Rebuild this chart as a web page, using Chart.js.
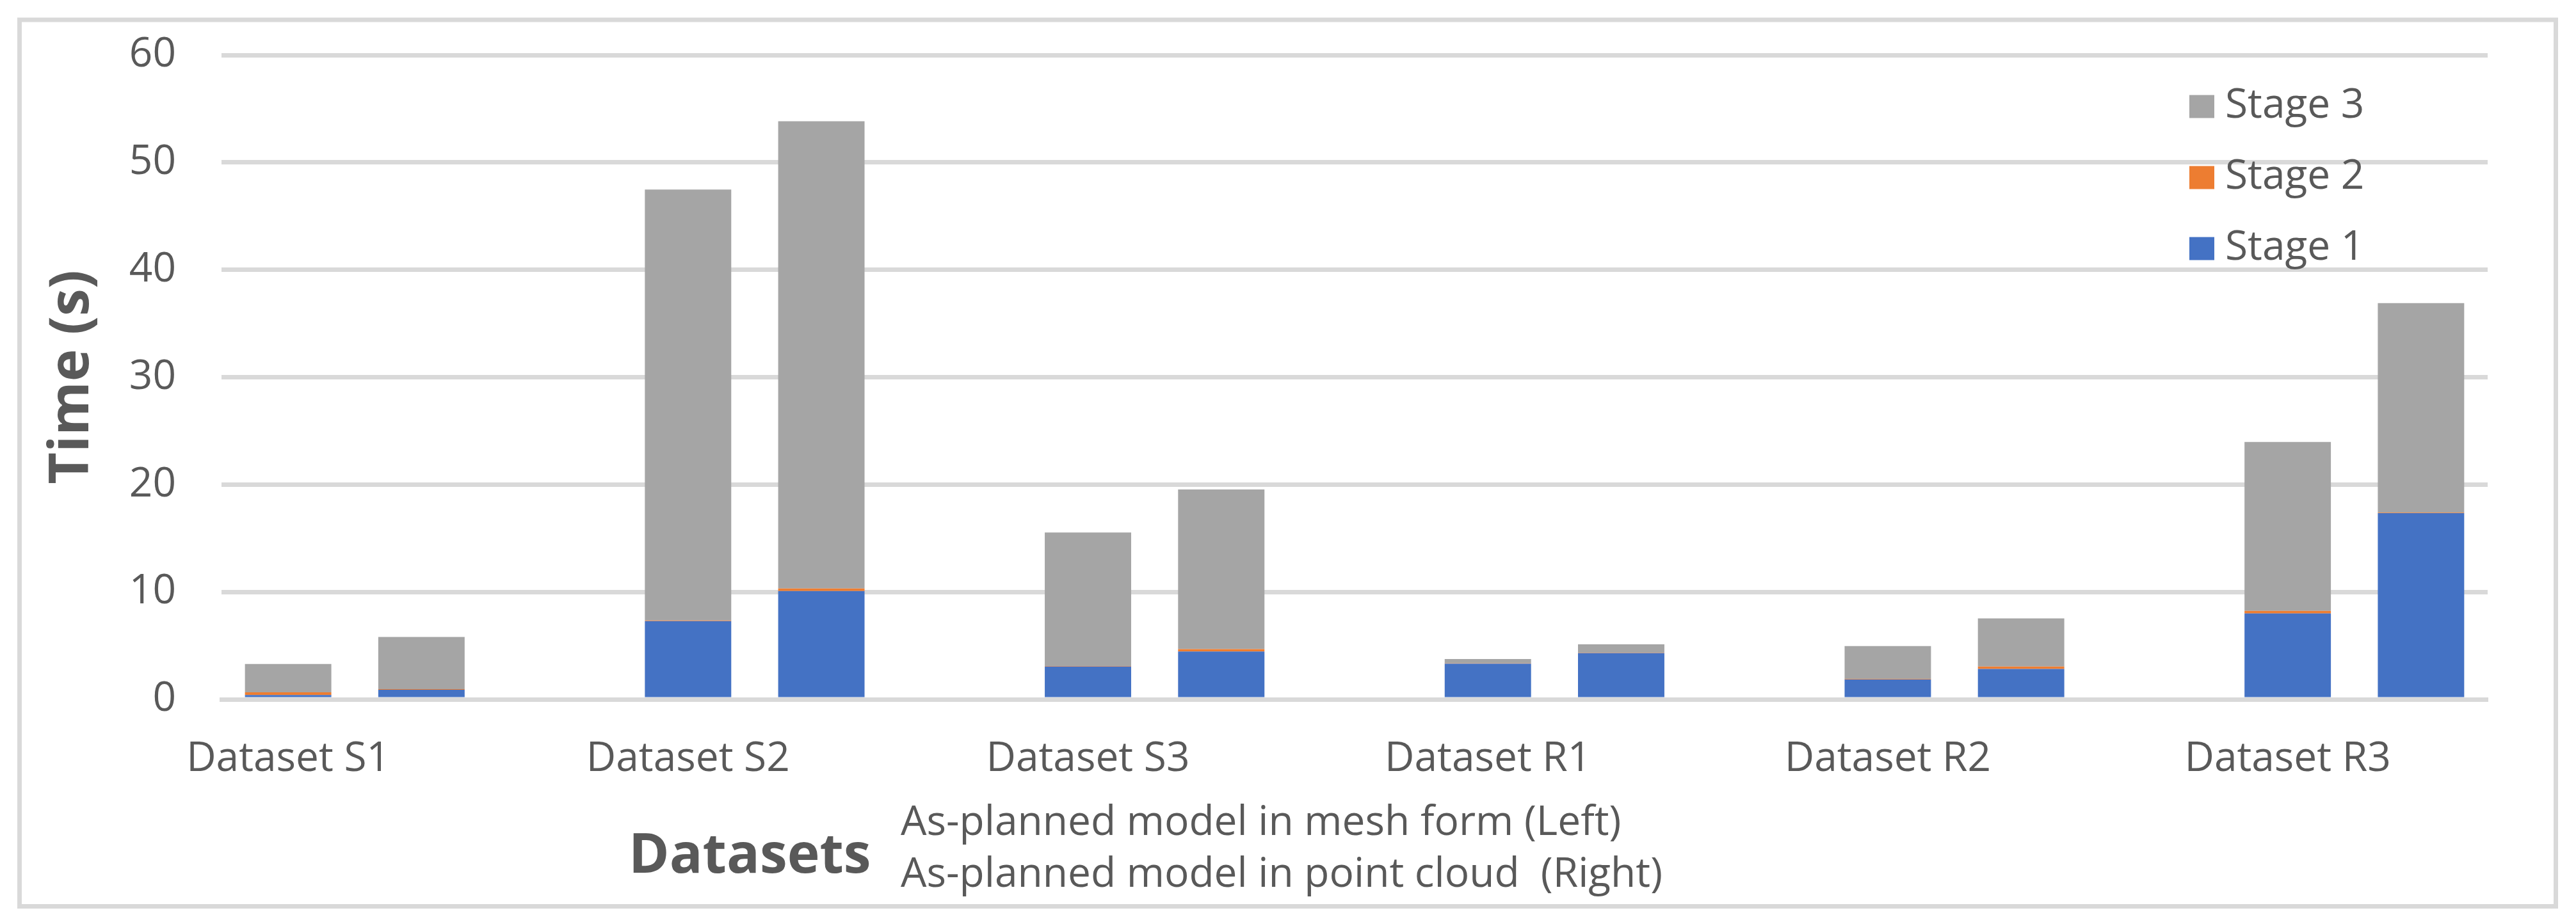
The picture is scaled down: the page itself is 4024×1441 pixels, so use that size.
<!DOCTYPE html>
<html>
<head>
<meta charset="utf-8">
<script src="https://cdn.jsdelivr.net/npm/chart.js@4"></script>
<style>
html,body{margin:0;padding:0;background:#fff;overflow:hidden}
#wrap{position:relative;width:4024px;height:1441px}
</style>
</head>
<body>
<div id="wrap"><canvas id="c"></canvas></div>
<script>
// ---- data ----
const categories = ['Dataset S1','Dataset S2','Dataset S3','Dataset R1','Dataset R2','Dataset R3'];
const seriesNames = ['Stage 1','Stage 2','Stage 3'];
// Left bar of each pair: as-planned model in mesh form
const stage1Mesh  = [0.40, 7.29, 3.05, 3.32, 1.84, 8.00];
const stage2Mesh  = [0.25, 0.05, 0.05, 0.03, 0.05, 0.24];
const stage3Mesh  = [2.64, 40.13, 12.44, 0.41, 3.07, 15.73];
// Right bar of each pair: as-planned model in point cloud
const stage1Cloud = [0.90, 10.08, 4.46, 4.31, 2.83, 17.34];
const stage2Cloud = [0.05, 0.24, 0.22, 0.03, 0.22, 0.05];
const stage3Cloud = [4.86, 43.51, 14.86, 0.79, 4.49, 19.51];
const yTicks = [0, 10, 20, 30, 40, 50, 60];
const yTitle = 'Time (s)';
const xTitle = 'Datasets';
const xNotes = ['As-planned model in mesh form (Left)', 'As-planned model in point cloud  (Right)'];
const seriesColors = ['#4472C4', '#ED7D31', '#A5A5A5'];

// ---- build slot layout: mesh, cloud, gap ----
function toSlots(mesh, cloud) {
  const out = [];
  mesh.forEach((v, i) => {
    out.push(v, cloud[i]);
    if (i < mesh.length - 1) out.push(null);
  });
  return out;
}
const slotLabels = [];
categories.forEach((c, i) => {
  slotLabels.push(c, '');
  if (i < categories.length - 1) slotLabels.push('');
});
const seriesData = [
  toSlots(stage1Mesh, stage1Cloud),
  toSlots(stage2Mesh, stage2Cloud),
  toSlots(stage3Mesh, stage3Cloud)
];

const TEXT = '#595959';
const GRID = '#D9D9D9';
const FONT = '"Open Sans", "DejaVu Sans", sans-serif';

const decor = {
  id: 'decor',
  beforeDraw(chart) {
    const ctx = chart.ctx;
    ctx.save();
    ctx.fillStyle = '#fff';
    ctx.fillRect(0, 0, chart.width, chart.height);
    ctx.strokeStyle = GRID;
    ctx.lineWidth = 7;
    ctx.strokeRect(30.5, 31, 3962, 1385.5);
    ctx.restore();
  },
  afterDraw(chart) {
    const ctx = chart.ctx;
    const a = chart.chartArea;
    ctx.save();
    ctx.fillStyle = TEXT;
    ctx.textAlign = 'left';
    ctx.textBaseline = 'alphabetic';
    ctx.font = 'bold 86px ' + FONT;
    ctx.fillText(xTitle, a.left + 636, 1364);
    ctx.font = '64px ' + FONT;
    ctx.fillText(xNotes[0], a.left + 1061, 1305);
    ctx.fillText(xNotes[1], a.left + 1061, 1386);
    // legend (reversed order, inside plot area)
    const ds = chart.data.datasets;
    for (let k = 0; k < ds.length; k++) {
      const d = ds[ds.length - 1 - k];
      const top = a.top + 62.5 + k * 111;
      ctx.fillStyle = d.backgroundColor;
      ctx.fillRect(a.right - 466, top, 39, 36);
      ctx.fillStyle = TEXT;
      ctx.fillText(d.label, a.right - 410, top + 35);
    }
    ctx.restore();
  }
};

new Chart(document.getElementById('c'), {
  type: 'bar',
  data: {
    labels: slotLabels,
    datasets: seriesNames.map((n, i) => ({
      label: n,
      data: seriesData[i],
      backgroundColor: seriesColors[i],
      borderWidth: 0,
      barPercentage: 0.648,
      categoryPercentage: 1.0
    }))
  },
  options: {
    responsive: true,
    maintainAspectRatio: false,
    animation: false,
    devicePixelRatio: 1,
    layout: { padding: { left: 0, right: 138, top: 86, bottom: 0 } },
    plugins: { legend: { display: false }, tooltip: { enabled: false } },
    scales: {
      x: {
        stacked: true,
        grid: { display: false, drawTicks: false },
        border: { display: true, color: GRID, width: 7, z: 1 },
        ticks: {
          autoSkip: false, maxRotation: 0, minRotation: 0,
          padding: 55, color: TEXT, font: { family: FONT, size: 64 }
        },
        afterFit(s) { s.height = 348; s.paddingLeft = 0; s.paddingRight = 0; }
      },
      y: {
        stacked: true,
        min: 0, max: 60,
        grid: { color: GRID, lineWidth: 7, drawTicks: false },
        border: { display: false },
        ticks: { stepSize: 10, padding: 71, color: TEXT, font: { family: FONT, size: 64 } },
        afterBuildTicks(s) { s.ticks = yTicks.map(v => ({ value: v })); },
        title: {
          display: true, text: yTitle, color: TEXT,
          font: { family: FONT, size: 86, weight: 'bold' },
          padding: { top: 62, bottom: 0 }
        },
        afterFit(s) { s.width = 346; s.paddingTop = 0; s.paddingBottom = 0; }
      }
    }
  },
  plugins: [decor]
});
</script>
</body>
</html>
